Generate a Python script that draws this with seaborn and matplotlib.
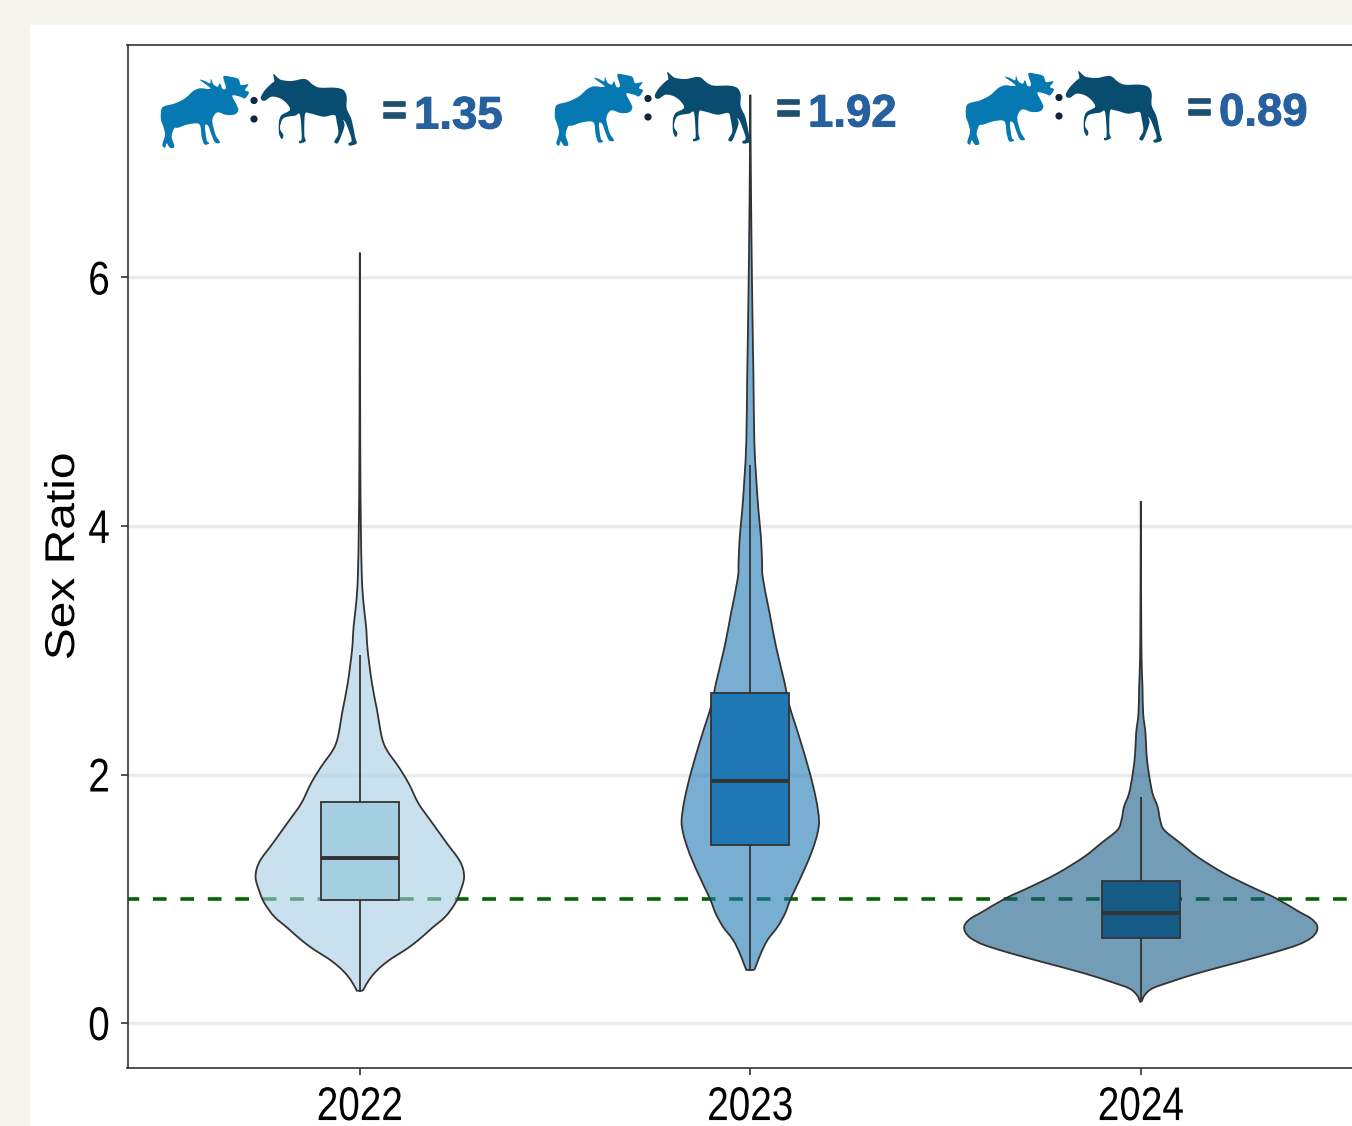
import numpy as np
import pandas as pd
import seaborn as sns
import matplotlib
matplotlib.use("Agg")
import matplotlib.pyplot as plt
import matplotlib.patheffects as pe
from matplotlib.colors import to_rgba
from matplotlib.patches import PathPatch, Rectangle, Circle
from matplotlib.path import Path
from matplotlib.transforms import Affine2D

years = ['2022', '2023', '2024']
ratios = ['1.35', '1.92', '0.89']
box_colors = ['#a6cee3', '#1f78b4', '#165a86']

# five number summaries for the boxes: whisker, q1, median, q3, whisker
stats_2022 = [0.25, 0.994, 1.328, 1.779, 2.96]
stats_2023 = [0.42, 1.433, 1.948, 2.656, 4.49]
stats_2024 = [0.17, 0.684, 0.885, 1.143, 1.82]

# violin outlines: sex ratio and half width
y_2022 = [0.260, 0.319, 0.386, 0.453, 0.521, 0.588, 0.668, 0.762, 0.856, 0.963, 1.057, 1.177, 1.298, 1.446, 1.634, 1.768,
          1.929, 2.063, 2.197, 2.304, 2.519, 2.734, 3.002, 3.190, 3.378, 3.592, 4.0, 4.5, 5.0, 6.2]
w_2022 = [0.0077, 0.018, 0.033, 0.054, 0.082, 0.116, 0.150, 0.184, 0.219, 0.244, 0.257, 0.267, 0.257, 0.223, 0.180, 0.150,
          0.125, 0.099, 0.069, 0.056, 0.044, 0.031, 0.020, 0.016, 0.0094, 0.0051, 0.0026, 0.0013, 0.0008, 0.0]

y_2023 = [0.427, 0.480, 0.561, 0.668, 0.775, 0.883, 0.990, 1.097, 1.205, 1.312, 1.419, 1.527, 1.634, 1.806, 2.028, 2.305, 2.555,
          2.749, 3.027, 3.305, 3.582, 3.721, 3.915, 4.137, 4.415, 4.69, 5.2, 5.8, 6.6, 7.47]
w_2023 = [0.0102, 0.017, 0.027, 0.044, 0.070, 0.089, 0.102, 0.118, 0.134, 0.149, 0.162, 0.172, 0.176, 0.168, 0.151, 0.125, 0.100,
          0.087, 0.066, 0.049, 0.032, 0.030, 0.027, 0.0205, 0.0145, 0.0102, 0.008, 0.005, 0.002, 0.0]

y_2024 = [0.171, 0.225, 0.279, 0.332, 0.400, 0.480, 0.561, 0.628, 0.682, 0.735, 0.789, 0.843, 0.896, 1.004,
          1.097, 1.205, 1.338, 1.446, 1.553, 1.634, 1.741, 1.849, 2.010, 2.171, 2.332, 2.493, 2.707, 2.92, 3.3, 3.7, 4.2]
w_2024 = [0.0017, 0.010, 0.030, 0.077, 0.145, 0.239, 0.333, 0.401, 0.435, 0.450, 0.451, 0.435, 0.405, 0.346,
          0.282, 0.213, 0.145, 0.102, 0.060, 0.0495, 0.043, 0.030, 0.0205, 0.0145, 0.012, 0.006, 0.0043, 0.002, 0.001, 0.0005, 0.0]

outlines = [(y_2022, w_2022), (y_2023, w_2023), (y_2024, w_2024)]
boxes = pd.DataFrame({
    'year': np.repeat(years, 5),
    'ratio': stats_2022 + stats_2023 + stats_2024,
})

# moose silhouettes, pixels of the first icon pair
bull = [(18, 140), (25, 125), (60, 115), (90, 100), (115, 78), (135, 70), (160, 72), (165, 68), (135, 45), (150, 48),
        (165, 55), (168, 42), (175, 58), (188, 65), (195, 55), (203, 72), (213, 68), (205, 35), (225, 35), (250, 42),
        (258, 60), (280, 58), (270, 75), (282, 82), (270, 100), (255, 95), (232, 92), (245, 120), (250, 135), (240, 148),
        (215, 150), (190, 142), (178, 150), (172, 170), (182, 210), (195, 232), (180, 232), (168, 205), (160, 183),
        (150, 182), (155, 225), (163, 235), (148, 238), (140, 215), (133, 178), (100, 178), (70, 188), (58, 190),
        (50, 215), (58, 245), (45, 248), (35, 235), (30, 248), (22, 240), (30, 210), (25, 185), (18, 165)]
cow = [(18, 95), (30, 75), (50, 55), (58, 48), (55, 27), (68, 38), (80, 45), (110, 48), (150, 42), (175, 60), (195, 68),
       (240, 68), (265, 75), (275, 95), (275, 130), (290, 165), (300, 215), (305, 235), (285, 242), (280, 235), (290, 225),
       (275, 180), (265, 165), (268, 185), (250, 232), (238, 232), (240, 225), (250, 205), (245, 170), (238, 150),
       (205, 155), (165, 145), (150, 148), (148, 210), (152, 228), (135, 235), (132, 228), (140, 220), (135, 150),
       (120, 152), (85, 160), (75, 190), (85, 210), (80, 222), (72, 205), (72, 170), (80, 150), (105, 135), (95, 115),
       (75, 100), (50, 95), (30, 107), (20, 105)]
icon_dx = [0, 394, 805]
icon_dy = [0, -2, -3]


class Stretch(pe.AbstractPathEffect):
    # squeezes or widens a text along its own direction, the text stays a text
    def __init__(self, factor):
        super().__init__()
        self.factor = factor

    def draw_path(self, renderer, gc, tpath, affine, rgbFace=None):
        box = tpath.get_extents()
        cx = (box.x0 + box.x1) / 2
        pre = Affine2D().translate(-cx, 0).scale(self.factor, 1).translate(cx, 0)
        renderer.draw_path(gc, tpath, pre + affine, rgbFace)


def smooth_path(pts, closed=False):
    # bezier curve through the read points, so the outline has no corners
    pts = np.asarray(pts, dtype=float)
    n = len(pts)
    verts = [pts[0]]
    codes = [Path.MOVETO]
    last = n if closed else n - 1
    for k in range(last):
        if closed:
            p0, p1, p2, p3 = pts[k - 1], pts[k], pts[(k + 1) % n], pts[(k + 2) % n]
        else:
            p0, p1, p2, p3 = pts[max(k - 1, 0)], pts[k], pts[k + 1], pts[min(k + 2, n - 1)]
        verts += [p1 + (p2 - p0) / 6, p2 - (p3 - p1) / 6, p2]
        codes += [Path.CURVE4] * 3
    return Path(verts, codes)


def violin_path(i, ys, ws):
    # right side going up, left side coming down, flat at the bottom
    up = smooth_path(np.c_[i + np.array(ws), ys])
    down = smooth_path(np.c_[i - np.array(ws[::-1]), ys[::-1]])
    verts = np.r_[up.vertices, down.vertices, [up.vertices[0]]]
    codes = np.r_[up.codes, [Path.LINETO], down.codes[1:], [Path.LINETO]]
    return Path(verts, codes)


sns.set_theme(style="white")
plt.rcParams['font.family'] = ['Liberation Sans', 'DejaVu Sans']

W, H = 1352, 1126
fig = plt.figure(figsize=(W / 100, H / 100), dpi=100, facecolor='#f4f3ee')
fig.add_artist(Rectangle((30 / W, 0), 1, (H - 25) / H, transform=fig.transFigure, color='white', zorder=-1))

ax = fig.add_axes([127.5 / W, (H - 1068) / H, 1247.6 / W, 1023 / H])
ax.set_facecolor('none')

# dashed line goes under the see-through violins
ax.axhline(1, color='#006400', lw=2.6, ls=(0.7, (3.8, 3.8)), zorder=1.5)

for i, (ys, ws) in enumerate(outlines):
    ax.add_patch(PathPatch(violin_path(i, ys, ws), facecolor=to_rgba(box_colors[i], 0.6), edgecolor='#333333',
                           lw=1.3, zorder=2))

sns.boxplot(data=boxes, x='year', y='ratio', hue='year', palette=box_colors, legend=False, ax=ax,
            width=0.2, gap=0, whis=(0, 100), saturation=1, showcaps=False, showfliers=False, linecolor='#333333',
            linewidth=1.3, medianprops={'linewidth': 2.8, 'color': '#333333'}, zorder=3)

ax.set_xlim(-0.595, 2.6)
ax.set_ylim(-0.362, 7.871)
ax.set_yticks([0, 2, 4, 6])
ax.grid(True, axis='y', color='#ebebeb', lw=2.5)
ax.grid(False, axis='x')
ax.set_axisbelow(True)
for s in ax.spines.values():
    s.set_color('#333333')
    s.set_linewidth(1.2)
ax.tick_params(axis='both', length=5, width=1.2, color='#333333', labelcolor='black', labelsize=34, bottom=True, left=True)
ax.tick_params(axis='x', pad=8)
ax.tick_params(axis='y', pad=6)
for t in ax.get_xticklabels() + ax.get_yticklabels():
    t.set_path_effects([Stretch(0.82)])
ax.set_xlabel('')
ylab = ax.set_ylabel('Sex Ratio', fontsize=30, color='black', labelpad=2)
ylab.set_path_effects([Stretch(1.15)])

# icons and ratio text, in pixels of the picture
top = fig.add_axes([0, 0, 1, 1], zorder=5)
top.set_xlim(0, W)
top.set_ylim(H, 0)
top.axis('off')
for dx, dy, val in zip(icon_dx, icon_dy, ratios):
    top.add_patch(PathPatch(smooth_path([(155 + x / 3 + dx, 65 + y / 3 + dy) for x, y in bull], closed=True),
                            facecolor='#0779b2', lw=0))
    top.add_patch(PathPatch(smooth_path([(255 + x / 3 + dx, 65 + y / 3 + dy) for x, y in cow], closed=True),
                            facecolor='#084c70', lw=0))
    for cy in (100.5, 119):
        top.add_patch(Circle((254 + dx, cy + dy), 3.6, color='#10263f', lw=0))
    eq = top.text(382 + dx, 112.5 + dy, '=', fontsize=30, fontweight='bold', color='#1d4f6e', va='center', ha='left')
    eq.set_path_effects([pe.withStroke(linewidth=1.2, foreground='#1d4f6e')])
    num = top.text(414 + dx, 116.5 + dy, val, fontsize=32.8, fontweight='bold', color='#27609e', va='center', ha='left')
    num.set_path_effects([pe.withStroke(linewidth=0.7, foreground='#27609e')])

fig.savefig('out.png', dpi=100, facecolor=fig.get_facecolor())
